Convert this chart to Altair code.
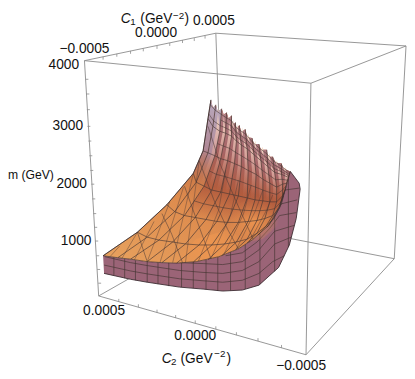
import altair as alt

FONT = "Liberation Sans"

# ---- bounding box (picture x, y)
box_edges = [
    [(86, 58), (220, 30)], [(86, 58), (317, 81)], [(317, 81), (414, 43)], [(220, 30), (414, 43)],
    [(86, 58), (100.5, 298)], [(317, 81), (312, 358)], [(414, 43), (402, 260)], [(220, 30), (227, 226)],
    [(100.5, 298), (312, 358)], [(312, 358), (402, 260)], [(402, 260), (227, 226)], [(227, 226), (100.5, 298)],
]
c1_ticks = [(105, 54), (119, 51), (133, 48), (146, 45.5), (160, 43), (173, 40), (186, 37), (198, 35), (209, 32.5)]
c2_ticks = [(121, 304), (141, 309.5), (160, 315), (179, 320.5), (199, 326), (220, 332), (241, 338), (263, 344), (287, 351)]
m_ticks = [(87, 77), (88, 92), (88.5, 108), (89, 125), (90, 140), (91, 155), (92, 170), (93, 184), (94, 199), (95, 214),
           (96, 228), (97, 242), (98, 257), (99, 271), (100, 285)]

# ---- wall of the solid
wall_top = [(105, 257), (120, 259), (133, 260.5), (150, 263), (165, 264), (180, 264.5), (200, 263), (223, 258),
            (243, 250), (257, 241), (274, 226), (285, 206), (291, 189), (296, 171)]
wall_bottom = [(106, 275), (133, 281), (150, 284), (183, 289), (207, 291), (227, 293), (247, 292), (264, 287),
               (284, 269), (295, 246), (302, 219), (306, 189), (305, 183), (296, 171)]
wall_rows = [
    [(106, 266.5), (133, 272.5), (150, 275.5), (183, 280.5), (207, 282.5), (227, 284), (247, 282), (264, 275), (278, 263), (290, 257)],
    [(107, 258), (133, 264), (150, 267), (183, 272), (207, 274), (227, 275), (247, 272), (264, 263), (280, 245), (297, 238)],
    [(183, 264), (207, 265), (227, 266), (247, 263), (264, 251), (280, 232), (300, 226)],
    [(230, 257), (247, 254), (262, 243), (275, 229), (285, 216), (302, 213)],
    [(280, 210), (287, 204), (303, 200)],
    [(288, 193), (290, 190), (305, 188)],
]
wall_x = [116, 127, 138, 150, 161, 172, 185, 197, 210, 222, 235, 250, 265, 280, 294]
wall_y_low = [277, 280, 282, 284, 286, 288, 289, 290, 291.5, 293, 292.5, 291, 286, 273, 248]
wall_y_high = [258, 260, 262, 263, 264, 264, 264, 263, 261, 257, 252, 244, 234, 209, 176]

# ---- top surface: curves from the front edge up to the ridge
curves = [
    [(105, 257), (140, 233), (170, 205), (197, 173), (207, 150), (212, 117), (215, 98)],
    [(120, 259), (150, 238), (178, 212), (200, 182), (212, 152), (217, 125), (220, 103)],
    [(133, 260.5), (162, 241), (188, 216), (208, 186), (219, 155), (224, 130), (226, 107)],
    [(150, 263), (176, 243), (199, 218), (216, 190), (225, 158), (230, 132), (231, 111)],
    [(165, 264), (189, 245), (210, 220), (225, 192), (232, 160), (236, 135), (236, 114)],
    [(180, 264.5), (203, 246), (221, 222), (234, 194), (239, 163), (241, 140), (240, 121)],
    [(197, 263.5), (216, 246), (232, 223), (243, 196), (246, 166), (246, 144), (244, 124)],
    [(212, 261), (229, 245), (243, 223), (252, 198), (253, 170), (252, 148), (250, 128)],
    [(226, 257), (241, 243), (253, 222), (260, 200), (261, 174), (259, 154), (257, 137)],
    [(240, 251), (252, 240), (262, 221), (268, 201), (268, 179), (266, 160), (264, 143)],
    [(252, 244), (262, 234), (270, 219), (275, 202), (275, 183), (273, 166), (272, 149)],
    [(263, 236), (271, 227), (278, 216), (282, 202), (282, 187), (280, 172), (278, 156)],
    [(272, 228), (279, 219), (285, 208), (288, 196), (288, 184), (287, 174), (287, 163)],
    [(285, 206), (287, 204), (289, 196), (291, 189), (292, 183), (294, 177), (296, 171)],
]
cross_sparse = [
    [(140, 233), (145, 248), (150, 263)],
    [(165, 214), (175, 235), (186, 264)],
    [(188, 186), (201, 222), (215, 260)],
    [(203, 160), (218, 200), (232, 230), (243, 250)],
    [(212, 125), (225, 165), (240, 200), (258, 240)],
]
cross_steep = [
    [(112, 258), (122, 247)], [(124, 260), (140, 233)], [(137, 261), (157, 222)], [(150, 263), (173, 202)],
    [(163, 264), (187, 187)], [(176, 264), (197, 173)], [(189, 264), (203, 160)],
    [(202, 263), (223, 210), (230, 170)], [(215, 260), (235, 215), (243, 180)], [(228, 256), (248, 215), (256, 185)],
    [(241, 250), (260, 212), (268, 190)], [(254, 243), (272, 210), (278, 195)],
]
# saw-tooth notches between neighbouring tips of the ridge
notches = [(217, 106), (222, 110), (228, 113), (233, 117), (237, 124), (241, 127), (246, 131), (252, 136), (259, 143),
           (266, 149), (273, 156), (281, 162), (289, 168)]

# ---- text
labels = [
    ("\u22120.0005", 86, 46), ("0.0000", 159, 30), ("0.0005", 218, 18),
    ("4000", 65, 62), ("3000", 69, 125), ("2000", 73, 184), ("1000", 77.5, 242),
    ("0.0005", 106, 313), ("0.0000", 199, 339), ("\u22120.0005", 307, 370),
]
y_title = [("m (GeV)", 8, 175)]
italic = [("C", 128, 15.5), ("C", 170, 362)]
small = [("1", 135.5, 18.5), ("\u22122", 182, 13), ("2", 177, 365), ("\u22122", 224, 357)]
plain_left = [("(GeV", 143, 15.5), (")", 188, 15.5), ("(GeV", 184, 362), (")", 231, 362)]


def ring(points):
    pts = [list(p) for p in points]
    return {"type": "Feature", "properties": {}, "geometry": {"type": "Polygon", "coordinates": [pts + [pts[0]]]}}


def path(points):
    return {"type": "Feature", "properties": {}, "geometry": {"type": "LineString", "coordinates": [list(p) for p in points]}}


def lines(groups, color, width, opacity=1.0):
    return alt.Chart(alt.Data(values=[path(g) for g in groups])).mark_geoshape(
        filled=False, stroke=color, strokeWidth=width, strokeOpacity=opacity)


def fills(polys, paint):
    return alt.Chart(alt.Data(values=[ring(p) for p in polys])).mark_geoshape(
        fill=paint, stroke=None, strokeWidth=0)


def texts(rows, size, align="center", style="normal"):
    vals = [{"t": t, "x": x, "y": y} for t, x, y in rows]
    return alt.Chart(alt.Data(values=vals)).mark_text(
        font=FONT, fontSize=size, align=align, baseline="middle", fontStyle=style, color="#111111"
    ).encode(longitude="x:Q", latitude="y:Q", text="t:N")


def stops(*pairs):
    return [alt.GradientStop(offset=o, color=c) for o, c in pairs]


def between(a, b, t):
    return (a[0] + (b[0] - a[0]) * t, a[1] + (b[1] - a[1]) * t)


mesh_color = "#463734"
saw = []
for i, c in enumerate(curves):
    saw.append(c[-1])
    if i < len(notches):
        saw.append(notches[i])
surface_outline = curves[0][:-1] + saw + wall_top[::-1]
rows = [[c[j] for c in curves] for j in range(1, 6)]
half_rows = [[between(c[j], c[j + 1], 0.5) for c in curves] for j in range(0, 6)]
high_rows = [[between(c[5], c[6], t) for c in curves] for t in (0.25, 0.75)]

base_paint = alt.LinearGradient(gradient="linear", x1=0, y1=1, x2=1, y2=0,
    stops=stops((0, "#E8A35F"), (0.4, "#DE8C4E"), (0.62, "#BE6A43"), (0.85, "#B0593C"), (1, "#A86050")))
blob_paint = alt.RadialGradient(gradient="radial", x1=0.5, y1=0.5, x2=0.5, y2=0.5, r1=0, r2=0.5,
    stops=stops((0, "rgba(238,150,80,0.95)"), (1, "rgba(238,150,80,0)")))
fin_paint = alt.LinearGradient(gradient="linear", x1=0, y1=0, x2=0, y2=1,
    stops=stops((0, "rgba(176,128,136,1)"), (0.35, "rgba(165,100,104,0.95)"), (0.7, "rgba(172,86,60,0.8)"), (1, "rgba(180,90,60,0)")))
fin_blue = alt.LinearGradient(gradient="linear", x1=0, y1=0, x2=0, y2=1,
    stops=stops((0, "rgba(185,170,190,1)"), (0.6, "rgba(175,140,160,0.9)"), (1, "rgba(170,100,80,0)")))
strip_paint = alt.LinearGradient(gradient="linear", x1=0, y1=0, x2=0, y2=1,
    stops=stops((0, "rgba(248,224,204,1)"), (0.45, "rgba(225,175,165,0.75)"), (1, "rgba(215,140,110,0)")))

blobs = [
    [(240, 205), (262, 196), (284, 205), (284, 225), (268, 240), (246, 245), (232, 228)],
    [(176, 264), (200, 240), (235, 230), (250, 245), (225, 258), (200, 263)],
]
n_fins = len(curves) - 1
fins_long = [curves[i][2:] + [notches[i]] + curves[i + 1][2:][::-1] for i in range(2, n_fins)]
fins_side = [curves[i][3:] + [notches[i]] + curves[i + 1][3:][::-1] for i in range(0, 2)]
strips = []
for i in range(1, n_fins):
    inner = [between(curves[i][j], curves[i + 1][j], 0.5) for j in range(3, 7)]
    strips.append(inner + [notches[i]] + [curves[i + 1][j] for j in (5, 4, 3)])

layers = [
    lines(box_edges, "#8a8a8a", 0.9),
    lines([[p, (p[0], p[1] + 3)] for p in c1_ticks], "#8a8a8a", 0.8),
    lines([[p, (p[0], p[1] - 3)] for p in c2_ticks], "#8a8a8a", 0.8),
    lines([[p, (p[0] + 3, p[1])] for p in m_ticks], "#8a8a8a", 0.8),
    fills([wall_top + wall_bottom[::-1]], "#9B6477"),
    lines(wall_rows, mesh_color, 0.8, 0.85),
    lines([[(x, a), (x, b)] for x, a, b in zip(wall_x, wall_y_low, wall_y_high)], mesh_color, 0.8, 0.85),
    lines([wall_bottom], "#3a2a30", 0.9),
    fills([surface_outline], base_paint),
    fills(blobs, blob_paint),
    fills(fins_long, fin_paint),
    fills(fins_side, fin_blue),
    fills(strips, strip_paint),
    lines(curves, mesh_color, 0.75, 0.9),
    lines(rows, mesh_color, 0.75, 0.85),
    lines([r[2:] for r in half_rows[2:]], mesh_color, 0.7, 0.8),
    lines(high_rows, mesh_color, 0.7, 0.8),
    lines(cross_sparse, mesh_color, 0.7, 0.75),
    lines(cross_steep, mesh_color, 0.6, 0.7),
    lines([wall_top, curves[0]], "#3a2a2a", 0.8, 0.85),
    texts(labels, 14),
    texts(y_title, 12.4, align="left"),
    texts(italic, 14, style="italic"),
    texts(small, 10),
    texts(plain_left, 14, align="left"),
]

chart = alt.layer(*layers).project(type="identity", scale=1, translate=[-8, -8]).properties(
    width=407, height=371, padding=0
).configure_view(stroke=None)

chart.save("out.html", embed_options={"renderer": "svg", "actions": False})
